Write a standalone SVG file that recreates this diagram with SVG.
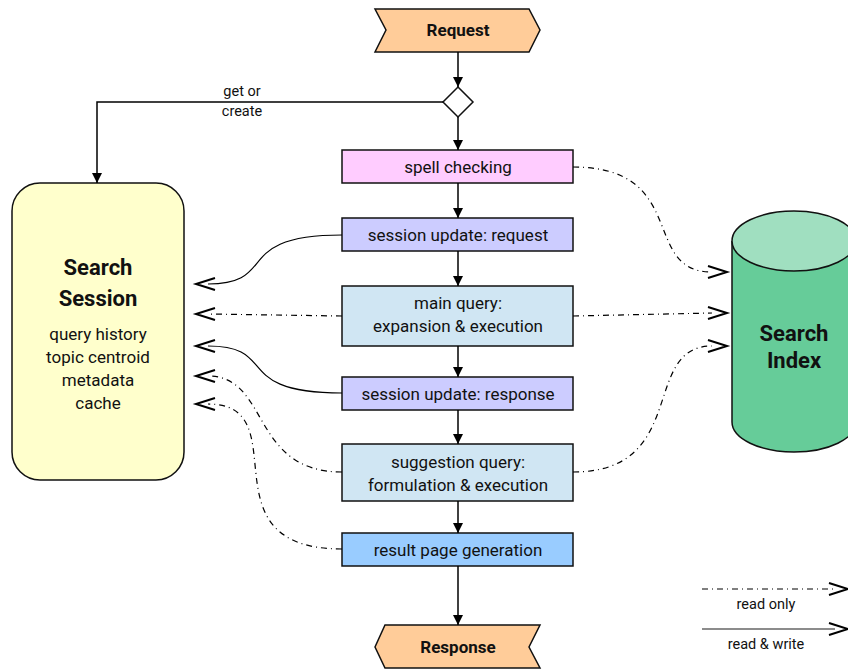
<svg xmlns="http://www.w3.org/2000/svg" width="848" height="670" viewBox="0 0 848 670">
<style>
text{font-family:Roboto,"Liberation Sans",sans-serif;fill:#111;text-anchor:middle}
.t{font-size:17px}
.b{font-size:22px;font-weight:bold}
.s{font-size:14.5px}
.box{stroke:#111;stroke-width:1.5}
.flow{stroke:#000;stroke-width:1.5;fill:none}
.rw{stroke:#000;stroke-width:1.2;fill:none}
.ro{stroke:#000;stroke-width:1.2;fill:none;stroke-dasharray:6 4 1 4}
.head{stroke:#000;stroke-width:2;fill:none}
</style>
<defs>
<marker id="ar" viewBox="0 0 10 10" refX="10" refY="5" markerWidth="10" markerHeight="10" markerUnits="userSpaceOnUse" orient="auto">
<path d="M0,0 L10,5 L0,10 Z" fill="#000"/>
</marker>
</defs>
<g id="request"><path class="box" fill="#ffcc99" d="M375,9 L529,9 L540,30 L529,52 L375,52 L386,30 Z"/><text class="t" font-weight="bold" x="458" y="36">Request</text></g>
<g id="decision"><path class="box" fill="#fff" d="M458,87 L473,102 L458,117 L443,102 Z"/></g>
<g id="spell"><rect class="box" fill="#ffccff" x="342" y="150" width="231" height="33"/><text class="t" x="458" y="173">spell checking</text></g>
<g id="sureq"><rect class="box" fill="#ccccff" x="342" y="218" width="231" height="33"/><text class="t" x="458" y="241">session update: request</text></g>
<g id="mainq"><rect class="box" fill="#d0e6f3" x="342" y="286" width="231" height="60"/><text class="t" x="458" y="309">main query:</text><text class="t" x="458" y="332">expansion &amp; execution</text></g>
<g id="suresp"><rect class="box" fill="#ccccff" x="342" y="377" width="231" height="33"/><text class="t" x="458" y="400">session update: response</text></g>
<g id="suggq"><rect class="box" fill="#d0e6f3" x="342" y="444" width="231" height="57"/><text class="t" x="458" y="468">suggestion query:</text><text class="t" x="458" y="491">formulation &amp; execution</text></g>
<g id="result"><rect class="box" fill="#99ccff" x="342" y="533" width="231" height="33"/><text class="t" x="458" y="556">result page generation</text></g>
<g id="response"><path class="box" fill="#ffcc99" d="M385,625 L540,625 L529,647 L540,668 L385,668 L375,647 Z"/><text class="t" font-weight="bold" x="458" y="653">Response</text></g>
<g id="session"><rect class="box" fill="#ffffcc" x="12" y="183" width="172" height="297" rx="28" ry="28"/>
<text class="b" x="98" y="275">Search</text><text class="b" x="98" y="306">Session</text>
<text class="t" x="98" y="340">query history</text><text class="t" x="98" y="363">topic centroid</text><text class="t" x="98" y="386">metadata</text><text class="t" x="98" y="409">cache</text></g>
<g id="index">
<path class="box" fill="#66cc99" d="M732,241 L732,422 A62,30 0 0 0 856,422 L856,241"/>
<ellipse class="box" fill="#a0dfc0" cx="794" cy="241" rx="62" ry="30"/>
<text class="b" font-size="21px" x="794" y="341">Search</text><text class="b" font-size="21px" x="794" y="368">Index</text></g>
<g id="connectors">
<path class="flow" marker-end="url(#ar)" d="M458,52 L458,87"/>
<path class="flow" marker-end="url(#ar)" d="M458,117 L458,150"/>
<path class="flow" marker-end="url(#ar)" d="M443,102 L97,102 L97,183"/>
<path class="flow" marker-end="url(#ar)" d="M458,183 L458,218"/>
<path class="flow" marker-end="url(#ar)" d="M458,251 L458,286"/>
<path class="flow" marker-end="url(#ar)" d="M458,346 L458,377"/>
<path class="flow" marker-end="url(#ar)" d="M458,410 L458,444"/>
<path class="flow" marker-end="url(#ar)" d="M458,501 L458,533"/>
<path class="flow" marker-end="url(#ar)" d="M458,566 L458,625"/>
<text class="s" x="242" y="96">get or</text><text class="s" x="242" y="116">create</text>
<path class="ro" d="M573,167 C690,167 640,272 712,272"/>
<path class="ro" d="M573,316 L712,313"/>
<path class="ro" d="M573,472 C690,472 640,346 712,346"/>
<path class="rw" d="M342,235 C230,235 280,284 208,284"/>
<path class="ro" d="M342,316 L208,314"/>
<path class="rw" d="M342,393 C230,393 280,346 208,346"/>
<path class="ro" d="M342,472 C250,472 270,376 208,376"/>
<path class="ro" d="M342,549 C200,549 300,404 208,404"/>
<path class="head" d="M215,278 L196,284 L215,290"/>
<path class="head" d="M215,308 L196,314 L215,320"/>
<path class="head" d="M215,340 L196,346 L215,352"/>
<path class="head" d="M215,370 L196,376 L215,382"/>
<path class="head" d="M215,398 L196,404 L215,410"/>
<path class="head" d="M708,266 L727,272 L708,278"/>
<path class="head" d="M708,307 L727,313 L708,319"/>
<path class="head" d="M708,340 L727,346 L708,352"/>
</g>
<g id="legend">
<path class="ro" d="M702,589 L835,589"/>
<path class="head" d="M829,583 L848,589 L829,595"/>
<text class="s" x="766" y="609">read only</text>
<path stroke="#666" stroke-width="1.5" fill="none" d="M702,629 L835,629"/>
<path class="head" d="M829,623 L848,629 L829,635"/>
<text class="s" x="766" y="649">read &amp; write</text>
</g>
</svg>
